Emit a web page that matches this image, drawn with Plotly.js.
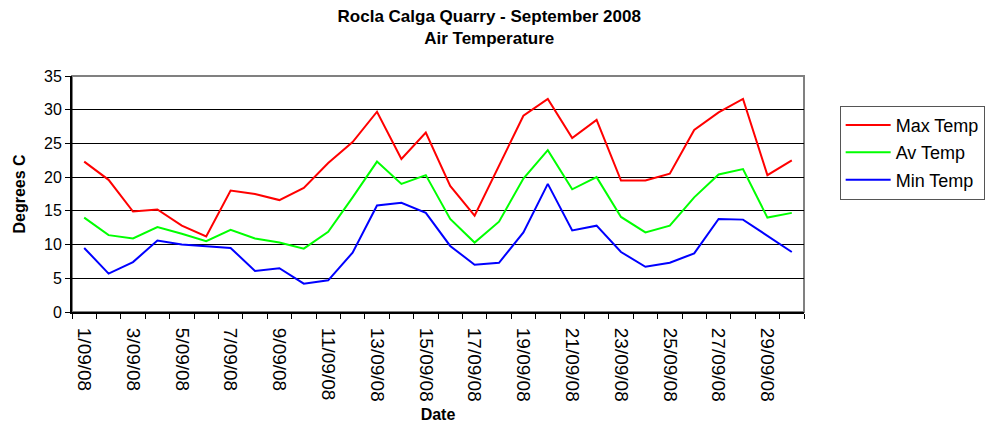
<!DOCTYPE html>
<html>
<head>
<meta charset="utf-8">
<script src="https://cdn.plot.ly/plotly-3.0.1.min.js"></script>
<style>html,body{margin:0;padding:0;background:#fff;}#chart{width:989px;height:428px;}</style>
</head>
<body>
<div id="chart"></div>
<script>
const dates = ["1/09/08","2/09/08","3/09/08","4/09/08","5/09/08","6/09/08","7/09/08","8/09/08","9/09/08","10/09/08",
  "11/09/08","12/09/08","13/09/08","14/09/08","15/09/08","16/09/08","17/09/08","18/09/08","19/09/08","20/09/08",
  "21/09/08","22/09/08","23/09/08","24/09/08","25/09/08","26/09/08","27/09/08","28/09/08","29/09/08","30/09/08"];
const maxTemp = [22.3,19.6,14.9,15.2,12.8,11.2,18.0,17.5,16.6,18.4,22.1,25.2,29.7,22.7,26.6,18.7,14.3,21.6,29.1,31.6,25.8,28.5,19.5,19.5,20.5,27.0,29.6,31.6,20.3,22.5];
const avTemp  = [14.0,11.4,10.9,12.6,11.6,10.5,12.2,10.9,10.3,9.4,11.9,17.0,22.3,19.0,20.3,13.8,10.3,13.4,19.8,24.0,18.2,20.0,14.1,11.8,12.8,17.0,20.4,21.2,14.0,14.7];
const minTemp = [9.5,5.7,7.4,10.6,10.0,9.8,9.5,6.1,6.5,4.2,4.7,8.8,15.8,16.2,14.7,9.8,7.0,7.3,11.8,19.0,12.1,12.8,8.9,6.7,7.3,8.7,13.8,13.7,11.3,8.9];
const tickLabels = dates.map((d, i) => (i % 2 === 0 ? d : ""));

const font = "Liberation Sans, Arial, sans-serif";
const traces = [
  {x: dates, y: maxTemp, name: "Max Temp", legendgroup: "a", type: "scatter", mode: "lines", line: {color: "#ff0000", width: 2}},
  {x: dates, y: avTemp, name: "Av Temp", legendgroup: "b", type: "scatter", mode: "lines", line: {color: "#00ff00", width: 2}},
  {x: dates, y: minTemp, name: "Min Temp", legendgroup: "c", type: "scatter", mode: "lines", line: {color: "#0000ff", width: 2}}
];
const layout = {
  width: 989, height: 428,
  margin: {l: 72, r: 185, t: 76, b: 116},
  paper_bgcolor: "#fff", plot_bgcolor: "#fff",
  font: {family: font, color: "#000", size: 13},
  title: {text: "<b>Rocla Calga Quarry - September 2008<br>Air Temperature</b>", font: {family: font, size: 17}, xref: "paper", x: 0.57, xanchor: "center", yref: "container", y: 0.949, yanchor: "middle"},
  showlegend: true,
  legend: {xref: "container", yref: "container", x: 0.849, xanchor: "left", y: 0.753, yanchor: "top", bordercolor: "#555", borderwidth: 1, bgcolor: "#fff", font: {family: font, size: 18}, tracegroupgap: 1, itemwidth: 45},
  xaxis: {
    type: "category", range: [-0.5, 29.5], tickson: "boundaries", tickmode: "array", tickvals: dates, ticktext: tickLabels,
    tickangle: 90, ticks: "outside", ticklen: 5, tickcolor: "#000", tickfont: {family: font, size: 19}, ticklabelstandoff: 10,
    showline: true, linecolor: "#000", linewidth: 2, showgrid: false, zeroline: false,
    title: {text: "<b>Date</b>", font: {family: font, size: 16}, standoff: 8},
    automargin: false, fixedrange: true
  },
  yaxis: {
    range: [0, 35], dtick: 5, ticks: "outside", ticklen: 5, tickcolor: "#000", tickfont: {family: font, size: 16},
    showline: true, linecolor: "#000", linewidth: 2, showgrid: true, gridcolor: "#000", gridwidth: 1, zeroline: false,
    title: {text: "<b>Degrees C</b>", font: {family: font, size: 16}, standoff: 14},
    automargin: false, fixedrange: true
  },
  shapes: [{type: "rect", xref: "paper", yref: "paper", x0: 0, x1: 1, y0: 0, y1: 1, line: {color: "#808080", width: 2}, layer: "below"}]
};
Plotly.newPlot("chart", traces, layout, {displayModeBar: false, staticPlot: true});
</script>
</body>
</html>
